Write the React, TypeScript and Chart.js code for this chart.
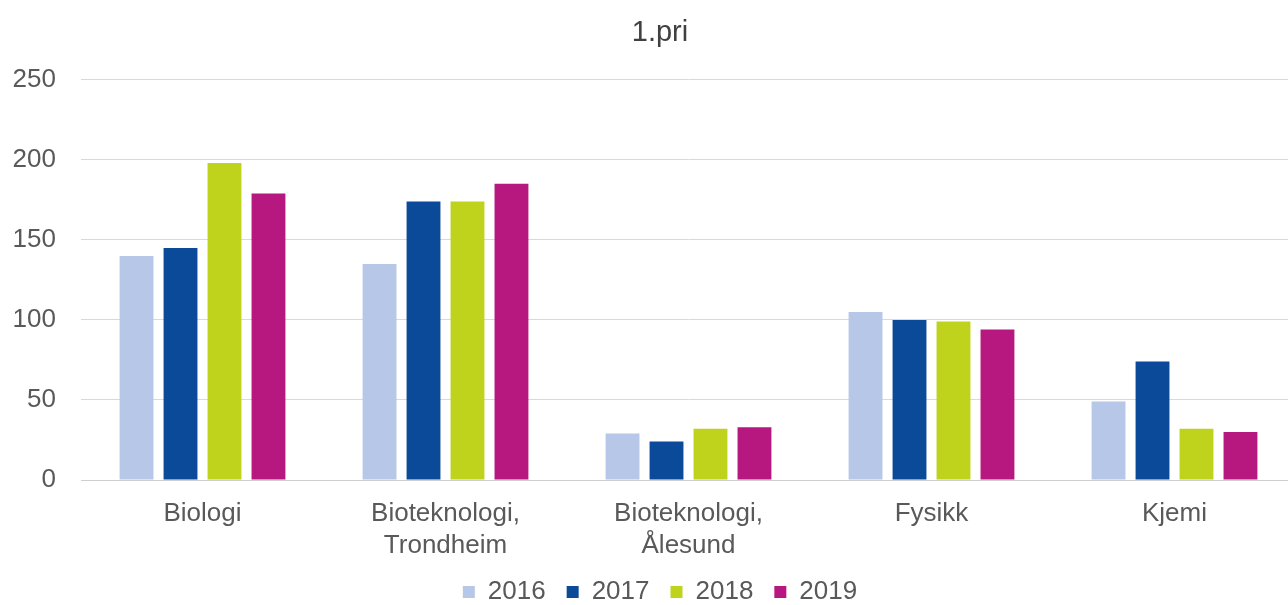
import React, { useEffect, useRef } from "react";
import { Chart, registerables } from "chart.js";

Chart.register(...registerables);

const categories: (string | string[])[] = [
  "Biologi",
  ["Bioteknologi,", "Trondheim"],
  ["Bioteknologi,", "Ålesund"],
  "Fysikk",
  "Kjemi",
];
const years = ["2016", "2017", "2018", "2019"];
const values2016 = [140, 135, 29, 105, 49];
const values2017 = [145, 174, 24, 100, 74];
const values2018 = [198, 174, 32, 99, 32];
const values2019 = [179, 185, 33, 94, 30];
const yTicks = [0, 50, 100, 150, 200, 250];
const colors = ["#b6c7e8", "#0a4a98", "#bfd31c", "#b7187f"];

const CANVAS_W = 1296;
const CANVAS_H = 615;
const BLOCK_SHIFT = 12;

const shiftBlocks = {
  id: "shiftBlocks",
  afterLayout(chart: any) {
    for (const b of [chart.titleBlock, chart.legend]) {
      if (b) {
        b.left += BLOCK_SHIFT;
        b.right += BLOCK_SHIFT;
      }
    }
  },
};

export default function App() {
  const ref = useRef<HTMLCanvasElement | null>(null);
  useEffect(() => {
    if (!ref.current) return;
    const font = "'Liberation Sans', Arial, sans-serif";
    const series = [values2016, values2017, values2018, values2019];
    const chart = new Chart(ref.current, {
      type: "bar",
      data: {
        labels: categories,
        datasets: years.map((y, i) => ({
          label: y,
          data: series[i],
          backgroundColor: colors[i],
          borderWidth: 0,
          categoryPercentage: 0.724,
          barPercentage: 0.77,
        })),
      },
      plugins: [shiftBlocks],
      options: {
        animation: false,
        responsive: false,
        maintainAspectRatio: false,
        layout: { padding: 0 },
        plugins: {
          title: {
            display: true,
            text: "1.pri",
            color: "#404040",
            font: { family: font, size: 29, weight: "normal", lineHeight: 1.2 },
            padding: { top: 16, bottom: 29 },
          },
          legend: {
            position: "bottom",
            labels: {
              color: "#595959",
              font: { family: font, size: 26 },
              boxWidth: 12,
              boxHeight: 12,
              padding: 21,
            },
          },
          tooltip: { enabled: false },
        },
        scales: {
          x: {
            afterFit: (s: any) => {
              s.height = 78;
            },
            grid: { display: false, drawTicks: false },
            border: { color: "#cfcfcf" },
            ticks: {
              color: "#595959",
              font: { family: font, size: 26, lineHeight: 1.23 },
              padding: 18,
              maxRotation: 0,
              autoSkip: false,
            },
          },
          y: {
            min: 0,
            max: 250,
            afterFit: (s: any) => {
              s.width = 81;
            },
            afterBuildTicks: (s: any) => {
              s.ticks = yTicks.map((v) => ({ value: v }));
            },
            grid: { color: "#d9d9d9", drawTicks: false },
            border: { display: false },
            ticks: {
              color: "#595959",
              font: { family: font, size: 26 },
              padding: 25,
            },
          },
        },
      },
    });
    return () => chart.destroy();
  }, []);
  return (
    <div
      style={{
        position: "fixed",
        left: 0,
        top: 0,
        width: 1288,
        height: 605,
        overflow: "hidden",
        background: "#fff",
      }}
    >
      <canvas
        ref={ref}
        width={CANVAS_W}
        height={CANVAS_H}
        style={{ width: CANVAS_W, height: CANVAS_H, display: "block" }}
      />
    </div>
  );
}
